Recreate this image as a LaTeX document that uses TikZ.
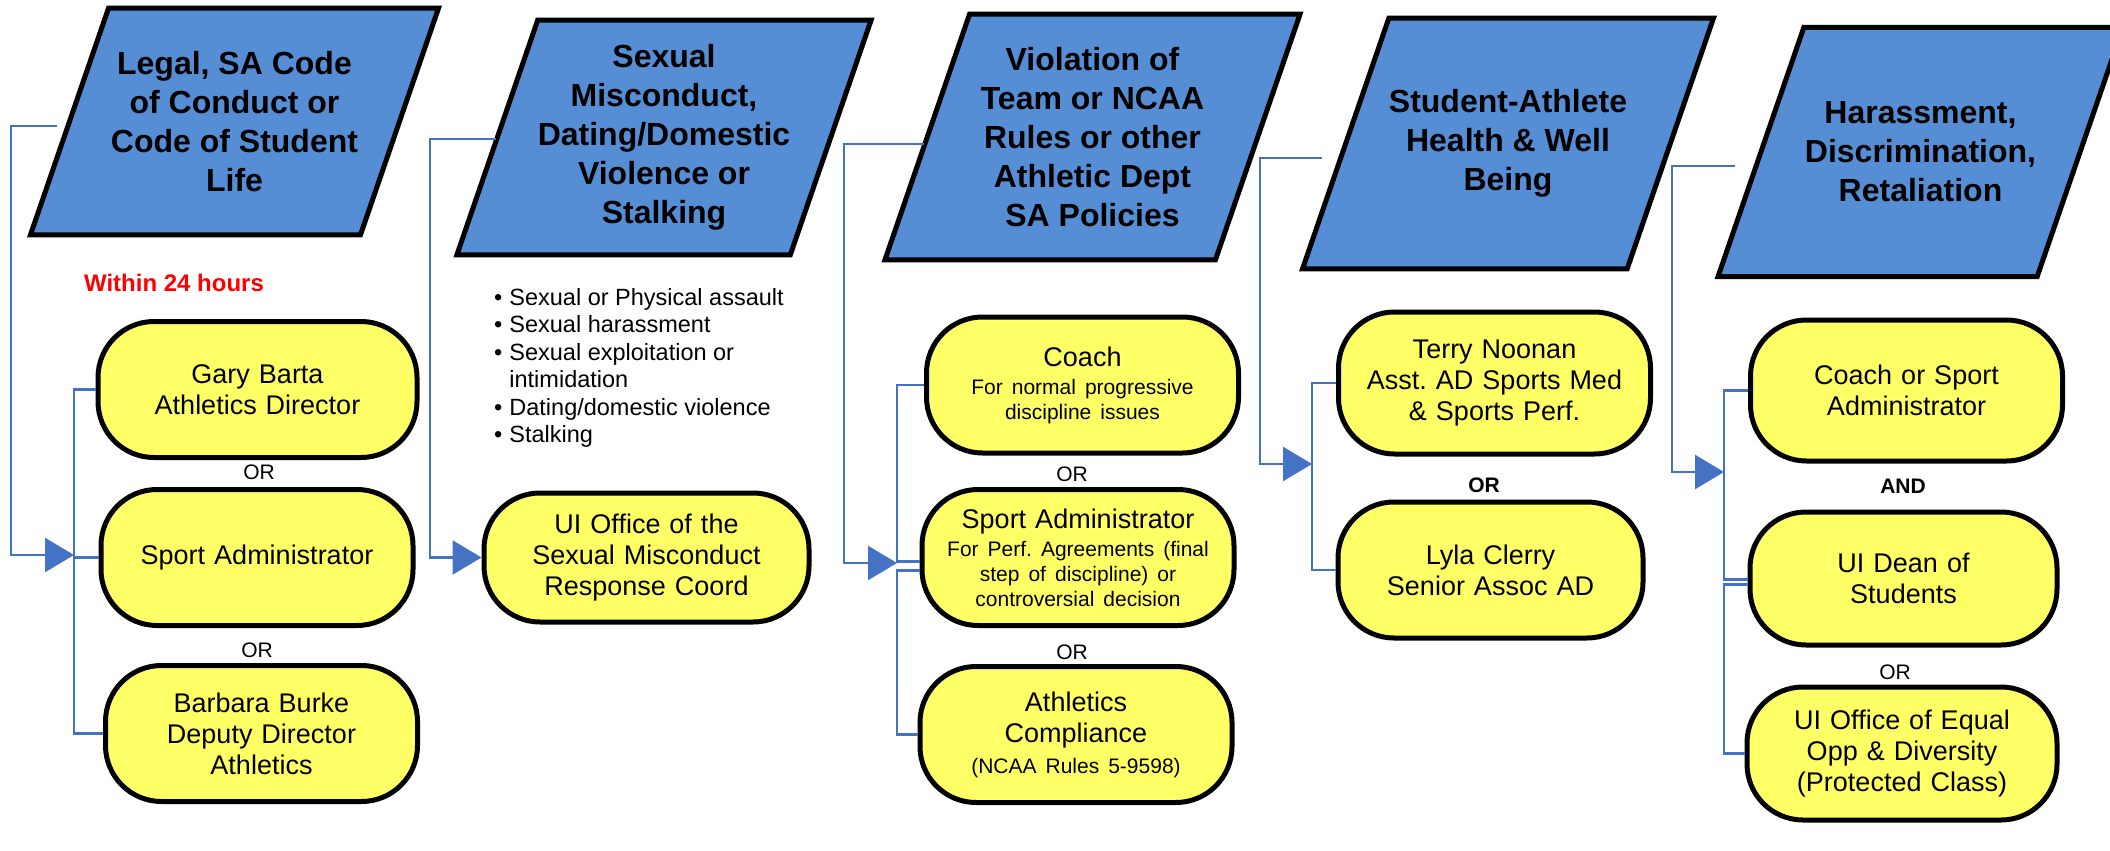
\documentclass[tikz,border=0pt]{standalone}
\usepackage{fontspec}
\setmainfont{Liberation Sans}
\usepackage{xcolor}
\usepackage{tikz}
\usetikzlibrary{shapes.geometric, arrows.meta}

\definecolor{topicblue}{RGB}{85,142,213}
\definecolor{contactyellow}{RGB}{255,255,102}
\definecolor{linkblue}{RGB}{68,114,196}
\newcommand{\detailfont}{\fontsize{21}{25}\selectfont}
\frenchspacing

\begin{document}
\begin{tikzpicture}[
    x=1pt, y=-1pt,
    topic/.style={trapezium, trapezium left angle=71, trapezium right angle=109, trapezium stretches body, draw, line width=5pt, fill=topicblue, minimum width=408pt, inner xsep=0pt, align=center, font=\fontsize{32}{39}\selectfont\bfseries},
    contact/.style={rectangle, rounded corners=56pt, draw, line width=5pt, fill=contactyellow, minimum width=312pt, minimum height=136pt, inner sep=0pt, text width=290pt, align=center, font=\fontsize{27}{31}\selectfont},
    choice/.style={inner sep=0pt, font=\fontsize{21}{25}\selectfont},
    link/.style={draw=linkblue, line width=2.5pt},
    arrow/.style={link, -{Triangle[length=29pt, width=34pt]}}
]
    \useasboundingbox (0,0) rectangle (2110,851);

    % Topics
    \node[topic, inner ysep=43pt] (legal) at (234.5,121.5) {Legal, SA Code\\of Conduct or\\Code of Student\\Life};
    \node[topic, inner ysep=24.5pt, minimum width=412pt] (misconduct) at (664,137.5) {Sexual\\Misconduct,\\Dating/Domestic\\Violence or\\Stalking};
    \node[topic, inner ysep=33pt, minimum width=415pt] (violation) at (1092.5,137) {Violation of\\Team or NCAA\\Rules or other\\Athletic Dept\\SA Policies};
    \node[topic, inner ysep=71.5pt, minimum width=404pt] (wellbeing) at (1508,143.5) {Student-Athlete\\Health \& Well\\Being};
    \node[topic, inner ysep=74.5pt, minimum width=405pt] (harassment) at (1920.5,152) {Harassment,\\Discrimination,\\Retaliation};

    % Notes
    \node[text=red, font=\fontsize{24}{28}\selectfont\bfseries] (deadline) at (174,283) {Within 24 hours};
    \node[anchor=north west, inner sep=0pt, font=\fontsize{23.5}{27.5}\selectfont] (forms) at (494,286) {%
        \begin{tabular}{@{}l@{\hspace{7pt}}l@{}}
        • & Sexual or Physical assault\\
        • & Sexual harassment\\
        • & Sexual exploitation or\\
          & intimidation\\
        • & Dating/domestic violence\\
        • & Stalking
        \end{tabular}};

    % Contacts
    \node[contact, minimum width=319pt] (barta) at (257.5,389.5) {Gary Barta\\Athletics Director};
    \node[contact] (sportadmin) at (257,557.5) {Sport Administrator};
    \node[contact] (burke) at (261.5,733.5) {Barbara Burke\\Deputy Director\\Athletics};
    \node[contact, minimum width=325pt, minimum height=129pt] (sexoffice) at (646.5,557.5) {UI Office of the\\Sexual Misconduct\\Response Coord};
    \node[contact] (coach) at (1082.5,385) {Coach\\[3pt]{\detailfont For normal progressive\\discipline issues\par}};
    \node[contact] (sportperf) at (1078,557.5) {Sport Administrator\\[3pt]{\detailfont For Perf. Agreements (final\\step of discipline) or\\controversial decision\par}};
    \node[contact] (compliance) at (1076,734.5) {Athletics\\Compliance\\{\detailfont (NCAA Rules 5-9598)}};
    \node[contact, minimum height=142pt] (noonan) at (1494.5,383) {Terry Noonan\\Asst. AD Sports Med\\\& Sports Perf.};
    \node[contact, minimum width=305pt] (clerry) at (1490.5,570) {Lyla Clerry\\Senior Assoc AD};
    \node[contact, minimum height=141pt] (coachsport) at (1906.5,390.5) {Coach or Sport\\Administrator};
    \node[contact, minimum width=307pt, minimum height=133pt] (dean) at (1903.5,578.5) {UI Dean of\\Students};
    \node[contact, minimum width=310pt, minimum height=133pt] (equalopp) at (1902,753.5) {UI Office of Equal\\Opp \& Diversity\\(Protected Class)};

    % Choices
    \node[choice] (or-a) at (259,472) {OR};
    \node[choice] (or-b) at (257,650) {OR};
    \node[choice] (or-c) at (1072,474) {OR};
    \node[choice] (or-d) at (1072,652) {OR};
    \node[choice, font=\fontsize{21}{25}\selectfont\bfseries] (or-e) at (1484,485) {OR};
    \node[choice, font=\fontsize{21}{25}\selectfont\bfseries] (and-a) at (1903,486) {AND};
    \node[choice] (or-f) at (1895,672) {OR};

    % Routes
    \coordinate (legal-out) at (57,126);
    \coordinate (misconduct-out) at (496,139);
    \coordinate (violation-out) at (924,144);
    \coordinate (wellbeing-out) at (1322,158);
    \coordinate (harassment-out) at (1735,166);
    \coordinate (legal-bar) at (74,555);
    \coordinate (violation-bar) at (897,563);
    \coordinate (wellbeing-bar) at (1312,464);
    \coordinate (harassment-bar) at (1724,472);

    \draw[arrow] (legal-out) -- ++(-46,0) |- (legal-bar);
    \draw[arrow] (misconduct-out) -- ++(-66,0) |- (sexoffice.west);
    \draw[arrow] (violation-out) -- ++(-80,0) |- (violation-bar);
    \draw[arrow] (wellbeing-out) -- ++(-62,0) |- (wellbeing-bar);
    \draw[arrow] (harassment-out) -- ++(-63,0) |- (harassment-bar);

    % Brackets
    \draw[link] (barta.west) -- (barta.west -| legal-bar) -- (burke.west -| legal-bar) -- (burke.west);
    \draw[link] (sportadmin.west) -- (sportadmin.west -| legal-bar);

    \coordinate (sportperf-a) at ([yshift=-4pt]sportperf.west);
    \coordinate (sportperf-b) at ([yshift=-13pt]sportperf.west);
    \draw[link] (coach.west) -- (coach.west -| violation-bar) -- (sportperf-a -| violation-bar) -- (sportperf-a);
    \draw[link] (sportperf-b) -- (sportperf-b -| violation-bar) -- (compliance.west -| violation-bar) -- (compliance.west);

    \draw[link] (noonan.west) -- (noonan.west -| wellbeing-bar) -- (clerry.west -| wellbeing-bar) -- (clerry.west);

    \coordinate (dean-a) at ([yshift=-1pt]dean.west);
    \coordinate (dean-b) at ([yshift=-6pt]dean.west);
    \draw[link] (coachsport.west) -- (coachsport.west -| harassment-bar) -- (dean-a -| harassment-bar) -- (dean-a);
    \draw[link] (dean-b) -- (dean-b -| harassment-bar) -- (equalopp.west -| harassment-bar) -- (equalopp.west);
\end{tikzpicture}
\end{document}
